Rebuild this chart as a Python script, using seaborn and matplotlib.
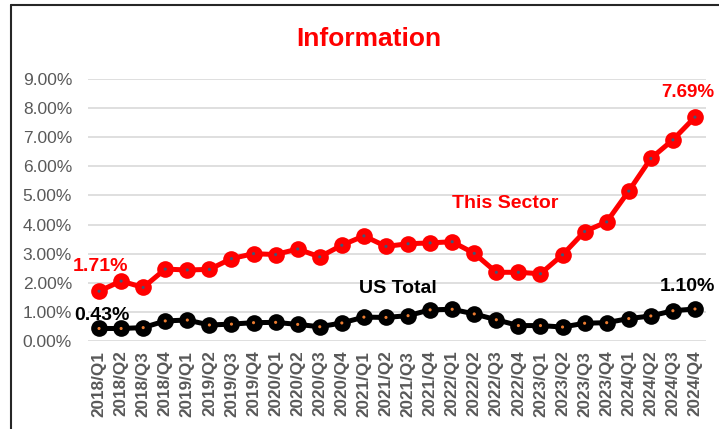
import matplotlib
matplotlib.use("Agg")
import matplotlib.pyplot as plt
import seaborn as sns
import pandas as pd
import numpy as np
from matplotlib.lines import Line2D

quarters = ["2018/Q1", "2018/Q2", "2018/Q3", "2018/Q4",
            "2019/Q1", "2019/Q2", "2019/Q3", "2019/Q4",
            "2020/Q1", "2020/Q2", "2020/Q3", "2020/Q4",
            "2021/Q1", "2021/Q2", "2021/Q3", "2021/Q4",
            "2022/Q1", "2022/Q2", "2022/Q3", "2022/Q4",
            "2023/Q1", "2023/Q2", "2023/Q3", "2023/Q4",
            "2024/Q1", "2024/Q2", "2024/Q3", "2024/Q4"]
sector = [1.71, 2.06, 1.84, 2.47, 2.44, 2.46, 2.83, 3.00,
          2.97, 3.16, 2.89, 3.29, 3.61, 3.25, 3.34, 3.37,
          3.41, 3.01, 2.36, 2.36, 2.31, 2.96, 3.76, 4.09,
          5.15, 6.27, 6.91, 7.69]
us_total = [0.43, 0.43, 0.46, 0.69, 0.72, 0.55, 0.58, 0.63,
            0.64, 0.57, 0.49, 0.62, 0.82, 0.81, 0.87, 1.07,
            1.09, 0.93, 0.73, 0.53, 0.53, 0.48, 0.61, 0.63,
            0.77, 0.86, 1.04, 1.10]
yticks = [0, 1, 2, 3, 4, 5, 6, 7, 8, 9]

sns.set_style("white")
plt.rcParams['font.family'] = ['Liberation Sans', 'DejaVu Sans']

idx = np.arange(len(quarters))
df = pd.DataFrame({"idx": np.concatenate([idx, idx]),
                   "value": sector + us_total,
                   "series": ["This Sector"] * len(quarters) + ["US Total"] * len(quarters)})

fig = plt.figure(figsize=(7.19, 4.29), dpi=100)
ax = fig.add_axes([88 / 719, 1 - 341 / 429, (706 - 88) / 719, (341 - 79) / 429])

palette = {"This Sector": "#FF0000", "US Total": "#000000"}
sns.lineplot(data=df, x="idx", y="value", hue="series", palette=palette,
             linewidth=3.6, marker="o", markersize=12, markeredgewidth=0,
             legend=False, ax=ax, zorder=3)
sns.scatterplot(data=df, x="idx", y="value", hue="series",
                palette={"This Sector": "#3E5878", "US Total": "#ED7D31"},
                s=5, linewidth=0, legend=False, ax=ax, zorder=4)

ax.set_xlim(-0.5, len(quarters) - 0.5)
ax.set_ylim(0, 9)
ax.set_yticks(yticks)
ax.set_yticklabels([f"{v:.2f}%" for v in yticks], color="#595959", fontsize=12.5)
ax.set_xticks(idx)
ax.set_xticklabels(quarters, rotation=90, color="#595959", fontsize=12.3, fontweight="bold")
ax.tick_params(axis="x", length=0, pad=7)
ax.tick_params(axis="y", length=0, pad=11.5)
ax.grid(axis="y", color="#D9D9D9", linewidth=1.2)
ax.grid(axis="x", visible=False)
for s in ax.spines.values():
    s.set_visible(False)
ax.set_xlabel("")
ax.set_ylabel("")

lab = dict(fontsize=14, fontweight="bold", va="center")
ax.text(0.07, 2.55, "1.71%", color="#FF0000", ha="center", **lab)
ax.text(0.15, 0.89, "0.43%", color="#000000", ha="center", **lab)
ax.text(25.45, 8.55, "7.69%", color="#FF0000", ha="left", clip_on=False,
        fontsize=13.5, fontweight="bold", va="center")
ax.text(25.42, 1.855, "1.10%", color="#000000", ha="left", clip_on=False, **lab)
ax.text(18.39, 4.74, "This Sector", color="#FF0000", ha="center", **lab)
ax.text(13.52, 1.82, "US Total", color="#000000", ha="center", **lab)

fig.text(369 / 719, 1 - 39 / 429, "Information", color="#FF0000", fontsize=19,
         fontweight="bold", ha="center", va="center")

fig.add_artist(Line2D([11 / 719, 11 / 719], [0, 1 - 5 / 429], color="#262626", linewidth=1.5))
fig.add_artist(Line2D([11 / 719, 1], [1 - 5 / 429, 1 - 5 / 429], color="#262626", linewidth=1.5))

fig.savefig("out.png", dpi=100)
